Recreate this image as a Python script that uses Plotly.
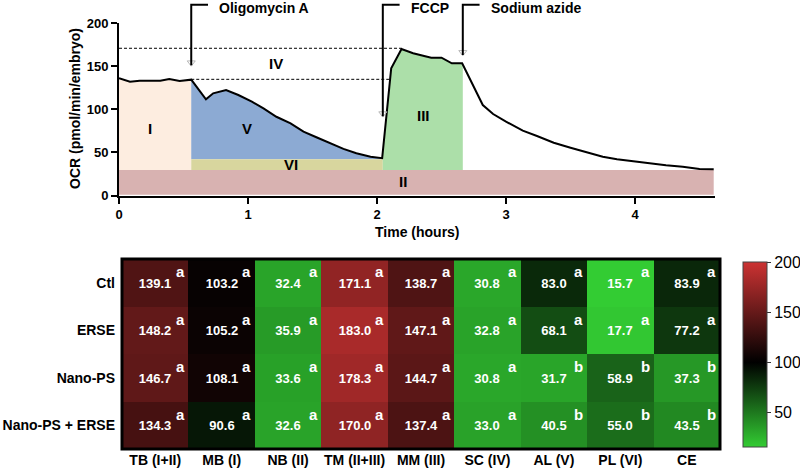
import numpy as np
import plotly.graph_objects as go

# ---------------- data: OCR trace (top panel) ----------------
time_h = [0.0, 0.085, 0.16, 0.24, 0.32, 0.39, 0.47, 0.56, 0.674, 0.73, 0.83, 0.925,
          1.03, 1.12, 1.22, 1.33, 1.43, 1.53, 1.64, 1.74, 1.84, 1.95, 2.04, 2.11,
          2.19, 2.28, 2.42, 2.50, 2.58, 2.66, 2.82, 2.90, 3.00, 3.13, 3.24, 3.37,
          3.50, 3.61, 3.75, 3.86, 4.00, 4.12, 4.24, 4.37, 4.50, 4.61]
ocr = [135.9, 132.0, 133.1, 132.8, 133.0, 135.0, 132.8, 134.3, 111.5, 118.5, 122.3, 116.5,
       108.8, 101.0, 91.3, 83.7, 74.0, 67.5, 60.5, 54.0, 49.0, 45.0, 43.3, 147.5,
       169.9, 164.9, 159.8, 159.8, 153.3, 153.3, 104.9, 94.5, 85.6, 75.2, 69.0, 61.2,
       55.4, 50.8, 45.0, 42.0, 39.2, 37.3, 35.0, 33.4, 30.7, 30.4]

# injections
inj_names = ["Oligomycin A", "FCCP", "Sodium azide"]
inj_time = [0.56, 2.045, 2.665]
inj_line_bottom = [151, 92, 163]

# region levels
nonmito_level = 29.6
leak_level = 42.0
basal_level = 134.7
max_level = 170.7
end_time = 4.61

region_names = ["I", "II", "III", "IV", "V", "VI"]
region_label_x = [0.24, 2.2, 2.36, 1.22, 0.99, 1.33]
region_label_y = [78, 16, 93, 153, 78, 35.5]

# ---------------- data: heatmap (bottom panel) ----------------
groups = ["Ctl", "ERSE", "Nano-PS", "Nano-PS + ERSE"]
params = ["TB (I+II)", "MB (I)", "NB (II)", "TM (II+III)", "MM (III)",
          "SC (IV)", "AL (V)", "PL (VI)", "CE"]
vals_ctl = [139.1, 103.2, 32.4, 171.1, 138.7, 30.8, 83.0, 15.7, 83.9]
vals_erse = [148.2, 105.2, 35.9, 183.0, 147.1, 32.8, 68.1, 17.7, 77.2]
vals_nano = [146.7, 108.1, 33.6, 178.3, 144.7, 30.8, 31.7, 58.9, 37.3]
vals_nano_erse = [134.3, 90.6, 32.6, 170.0, 137.4, 33.0, 40.5, 55.0, 43.5]
let_ctl = ["a"] * 9
let_erse = ["a"] * 9
let_nano = ["a", "a", "a", "a", "a", "a", "b", "b", "b"]
let_nano_erse = ["a", "a", "a", "a", "a", "a", "b", "b", "b"]
cb_ticks = [50, 100, 150, 200]

FONT = "Liberation Sans, Arial, sans-serif"
t = np.array(time_h)
y = np.array(ocr)

fig = go.Figure()

def poly(xs, ys, color):
    fig.add_trace(go.Scatter(x=xs, y=ys, fill="toself", fillcolor=color, mode="lines",
                             line=dict(width=0), hoverinfo="skip", showlegend=False,
                             xaxis="x", yaxis="y"))

olig, fccp, azide = inj_time
# II: non-mitochondrial
poly([0, end_time, end_time, 0], [0.8, 0.8, nonmito_level, nonmito_level], "#d8b2b1")
# I: basal region
m = t <= olig
poly([0] + list(t[m]) + [olig], [nonmito_level] + list(y[m]) + [nonmito_level], "#fdede0")
# V: ATP-linked
m = (t >= olig) & (t <= 2.04)
poly([olig] + list(t[m]) + [2.04], [leak_level] + list(y[m]) + [leak_level], "#8caad3")
# VI: proton leak
poly([olig, fccp, fccp, olig], [nonmito_level, nonmito_level, leak_level, leak_level], "#d8d69e")
# III: maximal
m = (t > fccp) & (t <= azide)
yf = float(np.interp(fccp, t, y))
ya = float(np.interp(azide, t, y))
poly([fccp, fccp] + list(t[m]) + [azide, azide],
     [nonmito_level, yf] + list(y[m]) + [ya, nonmito_level], "#acdfa9")

# dashed reference lines
imax = int(np.argmax(y))
fig.add_trace(go.Scatter(x=[0, t[imax]], y=[max_level, max_level], mode="lines",
                         line=dict(color="black", width=1, dash="3px,2px"),
                         hoverinfo="skip", showlegend=False, xaxis="x", yaxis="y"))
fig.add_trace(go.Scatter(x=[olig, 2.10], y=[basal_level, basal_level], mode="lines",
                         line=dict(color="black", width=1, dash="3px,2px"),
                         hoverinfo="skip", showlegend=False, xaxis="x", yaxis="y"))

# OCR curve
fig.add_trace(go.Scatter(x=time_h, y=ocr, mode="lines", line=dict(color="black", width=2),
                         showlegend=False, xaxis="x", yaxis="y"))

# injection arrow heads
fig.add_trace(go.Scatter(x=inj_time, y=[v + 3 for v in inj_line_bottom], mode="markers",
                         marker=dict(symbol="triangle-down-open", size=7, color="#b8b8b8",
                                     line=dict(width=1)),
                         hoverinfo="skip", showlegend=False, xaxis="x", yaxis="y"))

# injection brackets
shapes = []
annotations = []
stub = 0.13
for name, ti, yb in zip(inj_names, inj_time, inj_line_bottom):
    shapes.append(dict(type="line", xref="x", yref="y", x0=ti, x1=ti, y0=yb, y1=200,
                       line=dict(color="black", width=2)))
    shapes.append(dict(type="path", xref="x", yref="paper",
                       path=f"M {ti} 0.9509 L {ti} 0.99 L {ti + stub} 0.99",
                       line=dict(color="black", width=2)))
    annotations.append(dict(x=ti + 0.2, y=1 - 8 / 468, xref="x", yref="paper", text=name,
                            showarrow=False, xanchor="left", yanchor="middle",
                            font=dict(family=FONT, size=14, color="black", weight="bold")))

# region labels
for nm, lx, ly in zip(region_names, region_label_x, region_label_y):
    annotations.append(dict(x=lx, y=ly, xref="x", yref="y", text=nm, showarrow=False,
                            font=dict(family=FONT, size=15, color="black", weight="bold")))

# axis titles
annotations.append(dict(x=75 / 800, y=1 - 109 / 468, xref="paper", yref="paper",
                        xanchor="center", yanchor="middle",
                        text="OCR (pmol/min/embryo)", textangle=-90, showarrow=False,
                        font=dict(family=FONT, size=14, color="black", weight="bold")))
annotations.append(dict(x=0.5, y=1 - 232 / 468, xref="x domain", yref="paper",
                        text="Time (hours)", showarrow=False, yanchor="middle",
                        font=dict(family=FONT, size=14, color="black", weight="bold")))

# ---------------- heatmap ----------------
z = [vals_ctl, vals_erse, vals_nano, vals_nano_erse]
letters = [let_ctl, let_erse, let_nano, let_nano_erse]
zmin, zmax = 15.7, 200
mid = (100 - zmin) / (zmax - zmin)
cscale = [[0, "#33cc33"], [mid, "#000000"], [1, "#cc3333"]]
text = [[f"<b>{v:.1f}</b>" for v in row] for row in z]

fig.add_trace(go.Heatmap(z=z, x=params, y=groups, zmin=zmin, zmax=zmax, colorscale=cscale,
                         text=text, texttemplate="%{text}",
                         textfont=dict(family=FONT, size=13, color="white"),
                         xaxis="x2", yaxis="y2", hoverinfo="skip",
                         colorbar=dict(x=743 / 800, xanchor="left", xpad=0, ypad=0,
                                       thickness=24, thicknessmode="pixels",
                                       len=185 / 468, lenmode="fraction",
                                       y=1 - 354.5 / 468, yanchor="middle",
                                       tickvals=cb_ticks, ticks="outside", ticklen=4,
                                       tickcolor="#333", outlinewidth=1, outlinecolor="#444",
                                       tickfont=dict(family=FONT, size=16, color="black"))))

for gi, g in enumerate(groups):
    for pi, p in enumerate(params):
        annotations.append(dict(x=p, y=g, xref="x2", yref="y2", text=letters[gi][pi],
                                showarrow=False, xshift=25, yshift=11,
                                font=dict(family=FONT, size=15, color="white", weight="bold")))

shapes.append(dict(type="rect", xref="x2 domain", yref="y2 domain", x0=0, x1=1, y0=0, y1=1,
                   line=dict(color="black", width=3)))

axis_font = dict(family=FONT, size=13, color="black", weight="bold")
fig.update_layout(
    width=800, height=468, margin=dict(l=0, r=0, t=0, b=0, autoexpand=False),
    paper_bgcolor="white", plot_bgcolor="white",
    xaxis=dict(domain=[119 / 800, 715 / 800], range=[0, 4.62], anchor="y",
               showline=True, linewidth=2, linecolor="black", ticks="outside",
               ticklen=6, tickwidth=2, tickcolor="black", tickvals=[0, 1, 2, 3, 4],
               tickfont=axis_font, showgrid=False, zeroline=False),
    yaxis=dict(domain=[1 - 195.5 / 468, 1 - 23 / 468], range=[0, 200], anchor="x",
               showline=True, linewidth=2, linecolor="black", ticks="outside",
               ticklen=6, tickwidth=2, tickcolor="black", tickvals=[0, 50, 100, 150, 200],
               tickfont=axis_font, showgrid=False, zeroline=False),
    xaxis2=dict(domain=[122 / 800, 720 / 800], anchor="y2", type="category",
                showgrid=False, zeroline=False, ticks="", ticklabelstandoff=1,
                tickfont=dict(family=FONT, size=14, color="black", weight="bold")),
    yaxis2=dict(domain=[1 - 449 / 468, 1 - 259 / 468], anchor="x2", type="category",
                autorange="reversed", showgrid=False, zeroline=False, ticks="",
                ticklabelstandoff=6,
                tickfont=dict(family=FONT, size=14, color="black", weight="bold")),
    shapes=shapes, annotations=annotations,
)

fig.write_html("out.html", config={"displayModeBar": False},
               post_script="document.body.style.margin='0';document.body.style.overflow='hidden';")
